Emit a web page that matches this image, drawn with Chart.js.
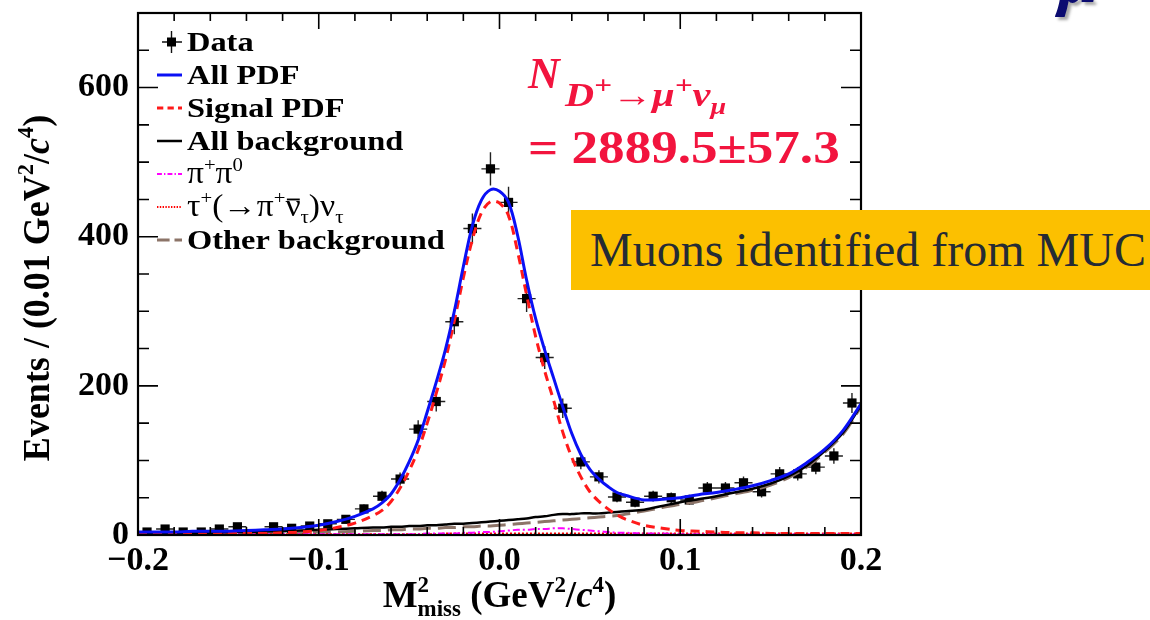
<!DOCTYPE html>
<html>
<head>
<meta charset="utf-8">
<title>M2miss fit, D+ -> mu+ nu</title>
<script src="https://cdn.jsdelivr.net/npm/chart.js@4.4.1/dist/chart.umd.min.js"></script>
<style>
  html, body { margin: 0; padding: 0; background: #fff; }
  #wrap { position: relative; width: 1150px; height: 620px; overflow: hidden; }
  #plot { position: absolute; left: 0; top: 0; }
  .yield { position: absolute; color: #f2143e; font-family: "Liberation Serif", serif;
           font-weight: bold; white-space: nowrap; line-height: 1; transform-origin: 0 0; }
  .yield sup, .yield sub { font-size: 0.78em; line-height: 0; }
  .yield sub { font-size: 0.7em; }
  #muc { position: absolute; left: 571px; top: 210px; width: 600px; height: 80px;
         background: #fcc000; color: #252b34; font-family: "Liberation Serif", serif;
         font-size: 48px; line-height: 80px; padding-left: 19px; box-sizing: border-box; white-space: nowrap; }
  #cut { position: absolute; left: 1058px; top: -58px; color: #0b0b70; font-family: "Liberation Serif", serif;
         font-weight: bold; font-style: italic; font-size: 72px; line-height: 1; text-shadow: 3px 3px 3px rgba(0,0,0,0.35); }
</style>
</head>
<body>
<div id="wrap">
  <canvas id="plot" width="1150" height="620"></canvas>
  <div class="yield" style="left:528px; top:52px; font-size:44px; font-style:italic;">N</div>
  <div class="yield" style="left:565px; top:79px; font-size:33px; font-style:italic; transform:scaleX(1.22);">D<sup>+</sup>→μ<sup>+</sup>ν<sub>μ</sub></div>
  <div class="yield" style="left:528px; top:124px; font-size:47px; transform:scaleX(1.13);">= 2889.5±57.3</div>
  <div id="muc">Muons identified from MUC</div>
  <div id="cut">μ</div>
</div>
<script>
/* ------------------------------------------------------------
   Data
   ------------------------------------------------------------ */
const BIN_WIDTH = 0.01;   // GeV^2/c^4
const BIN_CENTERS = [
  -0.195, -0.185, -0.175, -0.165, -0.155, -0.145, -0.135, -0.125, -0.115, -0.105,
  -0.095, -0.085, -0.075, -0.065, -0.055, -0.045, -0.035, -0.025, -0.015, -0.005,
   0.005,  0.015,  0.025,  0.035,  0.045,  0.055,  0.065,  0.075,  0.085,  0.095,
   0.105,  0.115,  0.125,  0.135,  0.145,  0.155,  0.165,  0.175,  0.185,  0.195,
];
const EVENTS = [
   4,   8,   4,   4,   8,  11,   1,  11,   9,  12,
  15,  21,  35,  52,  75, 142, 179, 286, 411, 491,
 446, 317, 238, 170,  98,  78,  51,  44,  52,  50,
  47,  63,  63,  70,  58,  82,  82,  91, 106, 177,
];

// sampling points of the fitted curves
const CURVE_X = [
  -0.2, -0.19, -0.18, -0.17, -0.16, -0.15, -0.14, -0.13, -0.12, -0.11,
  -0.1, -0.09, -0.08, -0.07, -0.065, -0.06, -0.055, -0.05, -0.045, -0.04,
  -0.035, -0.03, -0.025, -0.02, -0.015, -0.01, -0.005, 0, 0.005, 0.01,
  0.015, 0.02, 0.025, 0.03, 0.035, 0.04, 0.045, 0.05, 0.055, 0.06,
  0.065, 0.07, 0.08, 0.09, 0.1, 0.11, 0.12, 0.13, 0.14, 0.15,
  0.16, 0.17, 0.18, 0.19, 0.2,
];
const ALL_PDF = [
   4,   4,   4,   5,   5,   5,   6,   7,   8,  10,
  13,  18,  25,  35,  43,  55,  74,  98, 127, 165,
 205, 248, 300, 360, 415, 449, 463, 461, 446, 402,
 342, 290, 248, 210, 172, 136, 108,  88,  75,  65,
  57,  53,  47,  48,  50,  54,  57,  61,  66,  73,
  82,  97, 115, 140, 176,
];
const SIGNAL_PDF = [
   1,   1,   1,   1,   1,   2,   2,   2,   3,   4,
   6,  10,  16,  26,  33,  45,  63,  86, 114, 150,
 190, 234, 287, 345, 396, 432, 447, 445, 428, 380,
 322, 266, 220, 180, 138, 104,  78,  58,  45,  35,
  27,  21,  13,   9,   6,   5,   4,   3,   3,   2,
   2,   2,   2,   2,   2,
];
const ALL_BKG = [
   2,   2,   3,   3,   3,   4,   4,   5,   5,   6,
   7,   8,   9,  10,  10,  11,  11,  12,  12,  13,
  13,  14,  15,  15,  16,  17,  18,  19,  20,  21,
  22,  24,  25,  27,  28,  28,  29,  29,  29,  30,
  31,  32,  34,  39,  44,  48,  52,  57,  62,  69,
  79,  93, 113, 137, 174,
];
const PIPI0 = [
   1,   1,   1,   1,   1,   1,   1,   1,   1,   1,
   1,   1,   1,   1,   1,   1,   1,   1,   1,   2,
   2,   2,   2,   3,   3,   4,   4,   5,   6,   7,
   7,   8,   8,   9,   9,   8,   7,   6,   5,   4,
   3,   3,   2,   2,   1,   1,   1,   1,   1,   1,
   1,   1,   1,   1,   1,
];
const TAUNU = [
   1,   1,   1,   1,   1,   1,   1,   1,   1,   1,
   1,   1,   1,   1,   1,   1,   1,   1,   1,   1,
   1,   2,   2,   2,   2,   2,   2,   2,   2,   2,
   2,   2,   2,   2,   2,   2,   2,   2,   2,   2,
   2,   2,   2,   2,   2,   2,   2,   2,   2,   2,
   2,   2,   2,   2,   2,
];
const OTHER_BKG = [
   1,   1,   1,   2,   2,   2,   2,   3,   3,   3,
   4,   4,   5,   6,   6,   7,   7,   8,   8,   9,
   9,  10,  10,  11,  11,  12,  12,  13,  14,  15,
  16,  17,  18,  19,  20,  21,  22,  23,  24,  25,
  26,  28,  32,  37,  41,  45,  50,  55,  60,  67,
  77,  91, 111, 135, 172,
];

const X_TICKS = [-0.2, -0.1, 0.0, 0.1, 0.2];
const Y_TICKS = [0, 200, 400, 600];
const X_RANGE = [-0.2, 0.2];
const Y_RANGE = [0, 700];

const SERIF = '"Liberation Serif", "Times New Roman", serif';

/* ------------------------------------------------------------
   Helpers
   ------------------------------------------------------------ */
const pts = (ys) => CURVE_X.map((x, i) => ({ x, y: ys[i] }));

function curve(label, data, color, width, dash, legendRuns, legendSize) {
  return {
    label, data: pts(data),
    showLine: true, borderColor: color, backgroundColor: color,
    borderWidth: width, borderDash: dash, pointRadius: 0,
    tension: 0.35, fill: false,
    legendRuns, legendSize,
  };
}

// draw a list of text runs (normal / sup / sub) from baseline (x, y); returns width
function drawRuns(ctx, runs, x, y, size, sx, measureOnly) {
  let cx = 0, hold = null;
  ctx.save();
  ctx.translate(x, y);
  ctx.scale(sx, 1);
  runs.forEach((r) => {
    const s = r.pos ? size * 0.62 : size;
    const dy = r.pos === 'sup' ? -size * 0.40 : r.pos === 'sub' ? size * 0.24 : 0;
    ctx.font = `${r.italic ? 'italic ' : ''}${r.bold ? 'bold ' : ''}${s}px ${SERIF}`;
    const w = ctx.measureText(r.t).width;
    const at = hold !== null ? hold : cx;
    if (!measureOnly) {
      ctx.fillText(r.t, at, dy);
      if (r.bar) ctx.fillRect(at + w * 0.1, dy - size * 0.56, w * 0.85, size * 0.06);
    }
    if (r.stack) { hold = cx; cx += w; }           // next run starts at the same x
    else if (hold !== null) { cx = Math.max(cx, hold + w); hold = null; }
    else cx += w;
  });
  ctx.restore();
  return cx * sx;
}

const B = (t, o = {}) => Object.assign({ t, bold: true }, o);
const R = (t, o = {}) => Object.assign({ t }, o);

/* ------------------------------------------------------------
   Datasets (curves drawn above the data points)
   ------------------------------------------------------------ */
const datasets = [
  curve('All PDF',          ALL_PDF,    '#0a10f5', 3,   [],            [B('All PDF')]),
  curve('Signal PDF',       SIGNAL_PDF, '#ff1a1a', 3,   [9, 6],        [B('Signal PDF')]),
  curve('All background',   ALL_BKG,    '#000000', 2.5, [],            [B('All background')]),
  curve('pi+ pi0',          PIPI0,      '#ff00ff', 2,   [7, 3, 2, 3],
        [R('π'), R('+', { pos: 'sup' }), R('π'), R('0', { pos: 'sup' })], 31),
  curve('tau+ nu',          TAUNU,      '#ff0000', 2,   [2, 2],
        [R('τ'), R('+', { pos: 'sup' }), R('(→π'), R('+', { pos: 'sup' }), R('ν', { bar: true }),
         R('τ', { pos: 'sub' }), R(')ν'), R('τ', { pos: 'sub' })], 31),
  curve('Other background', OTHER_BKG,  '#8c7468', 3,   [18, 7],       [B('Other background')]),
  {
    label: 'Data',
    data: BIN_CENTERS.map((x, i) => ({ x, y: EVENTS[i] })),
    pointStyle: 'rect', pointRadius: 6.5, pointHoverRadius: 6.5,
    backgroundColor: '#000', borderColor: '#000', borderWidth: 0,
    showLine: false, order: 10,
    legendRuns: [B('Data')],
  },
];

/* ------------------------------------------------------------
   Plugins: error bars, frame + inner ticks, legend, axis titles
   ------------------------------------------------------------ */
const errorBars = {
  id: 'errorBars',
  beforeDatasetsDraw(chart) {
    const { ctx, chartArea: a, scales: { x, y } } = chart;
    ctx.save();
    ctx.beginPath(); ctx.rect(a.left, a.top, a.width, a.height); ctx.clip();
    ctx.strokeStyle = '#222'; ctx.lineWidth = 1.4;
    ctx.beginPath();
    BIN_CENTERS.forEach((c, i) => {
      const n = EVENTS[i], e = Math.sqrt(n);
      const px = x.getPixelForValue(c), py = y.getPixelForValue(n);
      ctx.moveTo(x.getPixelForValue(c - BIN_WIDTH / 2), py);
      ctx.lineTo(x.getPixelForValue(c + BIN_WIDTH / 2), py);
      ctx.moveTo(px, y.getPixelForValue(n + e));
      ctx.lineTo(px, y.getPixelForValue(n - e));
    });
    ctx.stroke();
    ctx.restore();
  },
};

const frame = {
  id: 'frame',
  afterDatasetsDraw(chart) {
    const { ctx, chartArea: a, scales: { x, y } } = chart;
    ctx.save();
    ctx.strokeStyle = '#000';
    ctx.lineWidth = 1.6;
    ctx.beginPath();
    // x: 5 subdivisions between labelled ticks
    for (let i = 0; i <= 20; i++) {
      const v = X_RANGE[0] + i * (X_TICKS[1] - X_TICKS[0]) / 5;
      const px = x.getPixelForValue(v), len = i % 5 === 0 ? 16 : 8;
      ctx.moveTo(px, a.bottom); ctx.lineTo(px, a.bottom - len);
      ctx.moveTo(px, a.top);    ctx.lineTo(px, a.top + len);
    }
    // y: 4 subdivisions between labelled ticks
    const step = (Y_TICKS[1] - Y_TICKS[0]) / 4;
    for (let v = Y_RANGE[0]; v <= Y_RANGE[1]; v += step) {
      const py = y.getPixelForValue(v), len = v % (step * 4) === 0 ? 20 : 11;
      ctx.moveTo(a.left, py);  ctx.lineTo(a.left + len, py);
      ctx.moveTo(a.right, py); ctx.lineTo(a.right - len, py);
    }
    ctx.stroke();
    ctx.lineWidth = 2.2;
    ctx.strokeRect(a.left, a.top, a.width, a.height);
    ctx.restore();
  },
};

const LEGEND = { x0: 157, x1: 182, textX: 187, y0: 42, dy: 33, size: 27, sx: 1.2 };
const legendOrder = ['Data', 'All PDF', 'Signal PDF', 'All background', 'pi+ pi0', 'tau+ nu', 'Other background'];

const insideLegend = {
  id: 'insideLegend',
  afterDraw(chart) {
    const { ctx } = chart;
    const L = LEGEND;
    ctx.save();
    legendOrder.forEach((name, row) => {
      const ds = chart.data.datasets.find((d) => d.label === name);
      const yc = L.y0 + row * L.dy;
      if (name === 'Data') {
        ctx.strokeStyle = '#111'; ctx.lineWidth = 1.4;
        ctx.beginPath();
        ctx.moveTo(L.x0 + 5, yc); ctx.lineTo(L.x1, yc);
        ctx.moveTo((L.x0 + L.x1) / 2 + 2, yc - 11); ctx.lineTo((L.x0 + L.x1) / 2 + 2, yc + 11);
        ctx.stroke();
        ctx.fillStyle = '#000';
        ctx.fillRect((L.x0 + L.x1) / 2 - 2.5, yc - 4.5, 9, 9);
      } else {
        ctx.strokeStyle = ds.borderColor; ctx.lineWidth = ds.borderWidth;
        ctx.setLineDash(ds.borderDash.length ? ds.borderDash.map((d) => d * 0.7) : []);
        ctx.beginPath(); ctx.moveTo(L.x0, yc); ctx.lineTo(L.x1, yc); ctx.stroke();
        ctx.setLineDash([]);
      }
      ctx.fillStyle = '#000';
      const size = ds.legendSize || L.size;
      drawRuns(ctx, ds.legendRuns, L.textX, yc + L.size * 0.33, size, ds.legendSize ? 1.08 : L.sx);
    });
    ctx.restore();
  },
};

const axisTitles = {
  id: 'axisTitles',
  afterDraw(chart) {
    const { ctx, chartArea: a } = chart;
    ctx.save();
    ctx.fillStyle = '#000';
    // x title: M^2_miss (GeV^2/c^4)
    const xRuns = [B('M'), B('2', { pos: 'sup', stack: true }), B('miss', { pos: 'sub' }),
                   B(' (GeV'), B('2', { pos: 'sup' }), B('/'), B('c', { italic: true }), B('4', { pos: 'sup' }), B(')')];
    const xs = 37;
    const wx = drawRuns(ctx, xRuns, 0, 0, xs, 1, true);
    drawRuns(ctx, xRuns, (a.left + a.right) / 2 - wx / 2, 607, xs, 1);
    // y title: Events / (0.01 GeV^2/c^4)
    const yRuns = [B('Events / (0.01 GeV'), B('2', { pos: 'sup' }), B('/'), B('c', { italic: true }),
                   B('4', { pos: 'sup' }), B(')')];
    const ys = 36;
    const wy = drawRuns(ctx, yRuns, 0, 0, ys, 1, true);
    ctx.translate(49, 288);
    ctx.rotate(-Math.PI / 2);
    ctx.scale(1, 1.08);
    drawRuns(ctx, yRuns, -wy / 2, 0, ys, 1);
    ctx.restore();
  },
};

/* ------------------------------------------------------------
   Chart
   ------------------------------------------------------------ */
const tickFont = { family: SERIF, weight: 'bold', size: 34 };
const noPad = (s) => { s.paddingTop = 0; s.paddingBottom = 0; s.paddingLeft = 0; s.paddingRight = 0; };

new Chart(document.getElementById('plot').getContext('2d'), {
  type: 'scatter',
  data: { datasets },
  options: {
    responsive: false,
    animation: false,
    devicePixelRatio: 1,
    layout: { padding: { top: 13, right: 289, left: 0, bottom: 0 } },
    plugins: { legend: { display: false }, tooltip: { enabled: false } },
    scales: {
      x: {
        type: 'linear', min: X_RANGE[0], max: X_RANGE[1],
        afterBuildTicks: (s) => { s.ticks = X_TICKS.map((value) => ({ value })); },
        afterFit: (s) => { s.height = 85; noPad(s); },
        ticks: {
          font: tickFont, color: '#000', padding: 6, maxRotation: 0, autoSkip: false,
          callback: (v) => (v < -1e-9 ? '−' : '') + Math.abs(v).toFixed(1),
        },
        grid: { display: false, drawTicks: false },
        border: { display: false },
      },
      y: {
        type: 'linear', min: Y_RANGE[0], max: Y_RANGE[1],
        afterBuildTicks: (s) => { s.ticks = Y_TICKS.map((value) => ({ value })); },
        afterFit: (s) => { s.width = 138; noPad(s); },
        ticks: { font: tickFont, color: '#000', padding: 9, autoSkip: false },
        grid: { display: false, drawTicks: false },
        border: { display: false },
      },
    },
  },
  plugins: [errorBars, frame, insideLegend, axisTitles],
});
</script>
</body>
</html>
